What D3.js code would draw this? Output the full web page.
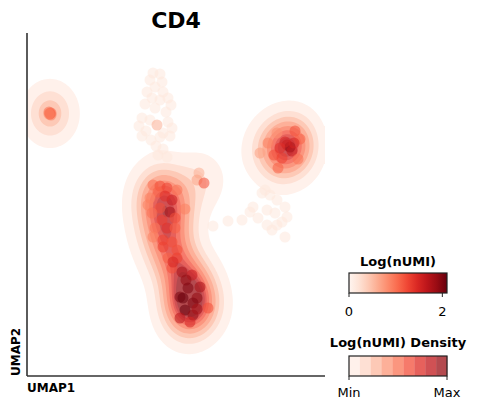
<!DOCTYPE html>
<html>
<head>
<meta charset="utf-8">
<script src="https://cdn.jsdelivr.net/npm/d3@7"></script>
<style>
    body { margin: 0; background: #fff; }
    text { font-family: 'DejaVu Sans', sans-serif; }
</style>
</head>
<body>
<div id="chart"></div>
<script>
// cells: UMAP coordinates and log expression of CD4
var umap1 = [
    -7.7, -7.6, -7.8, -7.7, -7.6, -7.8,
    2.6, 3.3, 2.3, 3.5, 2.8, 2.0, 3.6, 2.5, 3.3, 4.1, 4.4, 1.8, 2.8, 3.9, 1.5, 2.3,
    1.2, 1.9, 4.1, 4.5, 3.6, 1.5, 2.4, 3.3, 4.3, 2.9, 3.6, 3.1, 4.0, 3.0,
    7.2, 7.0, 7.7, 2.6, 3.3, 4.0, 5.0, 3.1, 2.3, 4.5, 3.8, 2.1, 5.8, 4.3, 3.3, 2.5,
    4.8, 3.5, 2.8, 4.0, 4.8, 2.6, 3.6, 4.5, 3.6, 5.0, 4.1, 5.0, 4.5,
    4.6, 5.5, 6.5, 5.9, 7.3, 6.1, 5.3, 7.0, 5.6, 6.6, 5.8, 6.6, 5.3, 7.0, 8.1, 6.3,
    16.3, 16.0, 16.8, 17.3, 15.0, 14.1, 13.3, 14.7, 15.5, 15.1, 15.8, 16.5, 17.1, 15.3, 16.7,
    8.6, 10.1, 11.5, 12.3, 12.6, 13.5, 14.3, 15.0, 14.0, 14.8, 15.8, 16.0, 14.0, 15.0,
    15.8, 14.5, 15.5, 13.8, 13.1
];
var umap2 = [
    11.3, 11.1, 11.4, 11.2, 11.3, 11.2,
    15.3, 15.2, 14.6, 14.4, 13.9, 13.4, 13.4, 12.8, 12.6, 12.8, 12.1, 12.2, 11.8, 11.4, 10.8, 10.6,
    10.0, 9.5, 10.4, 9.8, 9.3, 9.0, 8.6, 8.9, 9.0, 8.0, 7.7, 7.1, 6.9, 10.1,
    5.3, 4.6, 4.3, 4.1, 4.0, 3.8, 3.6, 3.4, 2.8, 2.6, 3.0, 2.1, 1.7, 1.4, 1.8, 1.3,
    0.8, 0.6, -0.2, -0.2, -0.2, -1.1, -1.4, -1.6, -2.1, -2.4, -3.2, -3.2, -4.2,
    -3.6, -4.6, -4.9, -5.4, -6.1, -6.2, -7.1, -7.2, -7.2, -7.7, -8.4, -8.9, -9.2, -8.3, -8.2, -9.6,
    7.9, 8.1, 9.5, 8.7, 9.3, 8.3, 7.3, 7.1, 6.8, 5.8, 8.4, 7.5, 6.7, 7.8, 8.3,
    0.0, 0.5, 0.6, 1.4, 1.9, 3.3, 3.1, 2.6, 1.6, 1.3, 1.9, 0.9, 0.1, 0.1,
    -1.1, -0.4, 0.4, 3.6, 0.8
];
var lognumi = [
    1.0, 0.9, 1.0, 1.1, 1.0, 0.9,
    0, 0, 0, 0, 0, 0, 0, 0, 0, 0, 0, 0, 0, 0, 0, 0,
    0, 0, 0, 0, 0, 0, 0, 0, 0, 0, 0, 0, 0, 0.6,
    0.6, 0.7, 1.2, 1.0, 1.2, 1.3, 1.0, 1.1, 0.9, 1.6, 1.4, 0.9, 0.9, 1.8, 1.2, 1.0,
    1.2, 1.3, 1.0, 1.4, 1.1, 0.9, 1.3, 1.2, 1.3, 1.2, 1.1, 1.3, 1.2,
    1.5, 1.8, 1.6, 1.9, 1.8, 2.0, 2.0, 1.9, 2.1, 2.0, 2.1, 1.9, 1.7, 1.8, 1.2, 1.5,
    2.0, 1.7, 1.2, 1.1, 0.8, 0.9, 0.7, 1.2, 1.3, 1.1, 1.5, 1.6, 1.0, 1.4, 1.5,
    0, 0, 0, 0, 0, 0, 0, 0, 0, 0, 0, 0, 0, 0,
    0, 0, 0, 0, 0
];
var umap1Domain = [-10, 19.8];
var umap2Domain = [-15, 19.3];
var colorbarTicks = [0, 2];
var densityTickLabels = ['Min', 'Max'];
var isoLevels = 10;
var bandwidth = [1.55, 1.8]; // kernel sd in umap units

var W = 478, H = 410;
var pad = { left: 27, top: 33, right: 153, bottom: 34 };
var pw = W - pad.left - pad.right;
var ph = H - pad.top - pad.bottom;

var svg = d3.select('#chart').append('svg')
    .attr('width', W)
    .attr('height', H);

var x = d3.scaleLinear().domain(umap1Domain).range([0, pw]);
var y = d3.scaleLinear().domain(umap2Domain).range([ph, 0]);
var exprMax = d3.max(lognumi);

function bandColor(i) {
    var c = d3.interpolateReds(0.05 + 0.84 * i / (isoLevels - 2));
    return d3.interpolateRgb('#ffffff', c)(0.75);
}

var pts = umap1.map(function (u, i) {
    return { px: x(u), py: y(umap2[i]), w: lognumi[i] };
});

// weighted gaussian kde on a pixel grid
var sx = x(bandwidth[0]) - x(0), sy = y(0) - y(bandwidth[1]);
var cell = 2;
var nx = Math.ceil(pw / cell), ny = Math.ceil(ph / cell);
var values = new Float64Array(nx * ny);
var heavy = pts.filter(function (d) { return d.w > 0; });
for (var j = 0; j < ny; j++) {
    var gy = (j + 0.5) * cell;
    for (var i = 0; i < nx; i++) {
        var gx = (i + 0.5) * cell, s = 0;
        for (var k = 0; k < heavy.length; k++) {
            var dx = (gx - heavy[k].px) / sx, dy = (gy - heavy[k].py) / sy;
            s += heavy[k].w * Math.exp(-0.5 * (dx * dx + dy * dy));
        }
        values[j * nx + i] = s;
    }
}

// iso-proportion levels
var sorted = Array.from(values).sort(function (a, b) { return b - a; });
var total = d3.sum(sorted), acc = 0;
var cum = sorted.map(function (v) { acc += v; return acc / total; });
var levels = d3.range(isoLevels).map(function (i) {
    var p = 0.05 + i * 0.95 / (isoLevels - 1);
    var idx = Math.min(d3.bisectLeft(cum, 1 - p), sorted.length - 1);
    return sorted[idx];
});

var contours = d3.contours().size([nx, ny])
    .thresholds(levels.slice(0, isoLevels - 1))(Array.from(values));

var plot = svg.append('g').attr('transform', 'translate(' + pad.left + ',' + pad.top + ')');
var path = d3.geoPath(d3.geoIdentity().scale(cell));

plot.append('g').selectAll('path')
    .data(contours)
    .join('path')
    .attr('d', path)
    .attr('fill', function (d, i) { return bandColor(i); });

plot.append('g').selectAll('circle')
    .data(pts)
    .join('circle')
    .attr('cx', function (d) { return d.px; })
    .attr('cy', function (d) { return d.py; })
    .attr('r', 5.5)
    .attr('fill', function (d) { return d3.interpolateReds(Math.max(d.w / exprMax, 0.08)); })
    .attr('fill-opacity', 0.55);

// spines
svg.append('line')
    .attr('x1', pad.left).attr('x2', pad.left)
    .attr('y1', pad.top).attr('y2', pad.top + ph)
    .attr('stroke', '#333').attr('stroke-width', 1.6);
svg.append('line')
    .attr('x1', pad.left).attr('x2', pad.left + pw)
    .attr('y1', pad.top + ph).attr('y2', pad.top + ph)
    .attr('stroke', '#333').attr('stroke-width', 1.6);

svg.append('text')
    .attr('x', pad.left + pw / 2).attr('y', 28)
    .attr('text-anchor', 'middle')
    .attr('font-size', 22).attr('font-weight', 'bold')
    .text('CD4');

svg.append('text')
    .attr('x', pad.left).attr('y', 392)
    .attr('font-size', 12).attr('font-weight', 'bold')
    .text('UMAP1');
svg.append('text')
    .attr('transform', 'translate(20,' + (pad.top + ph) + ') rotate(-90)')
    .attr('font-size', 12).attr('font-weight', 'bold')
    .text('UMAP2');

// legend: colorbar
var lx = 349, lw = 98, lh = 20;
var cbScale = d3.scaleLinear().domain([0, exprMax]).range([lx, lx + lw]);
var grad = svg.append('defs').append('linearGradient').attr('id', 'cbgrad');
d3.range(0, 1.0001, 0.1).forEach(function (t) {
    grad.append('stop').attr('offset', t).attr('stop-color', d3.interpolateReds(t));
});
svg.append('text')
    .attr('x', lx + lw / 2).attr('y', 266)
    .attr('text-anchor', 'middle')
    .attr('font-size', 13).attr('font-weight', 'bold')
    .text('Log(nUMI)');
svg.append('rect')
    .attr('x', lx).attr('y', 273).attr('width', lw).attr('height', lh)
    .attr('fill', 'url(#cbgrad)').attr('stroke', '#222').attr('stroke-width', 1.2);
var cbAxis = svg.append('g');
colorbarTicks.forEach(function (t) {
    cbAxis.append('line')
        .attr('x1', cbScale(t)).attr('x2', cbScale(t))
        .attr('y1', 273 + lh).attr('y2', 273 + lh + 4)
        .attr('stroke', '#222');
    cbAxis.append('text')
        .attr('x', cbScale(t)).attr('y', 316)
        .attr('text-anchor', 'middle').attr('font-size', 13)
        .text(t);
});

// legend: density bands
var nb = isoLevels - 1;
svg.append('text')
    .attr('x', lx + lw / 2).attr('y', 347)
    .attr('text-anchor', 'middle')
    .attr('font-size', 13).attr('font-weight', 'bold')
    .text('Log(nUMI) Density');
var bx = d3.scaleLinear().domain([0, nb]).range([lx, lx + lw]);
svg.append('g').selectAll('rect')
    .data(d3.range(nb))
    .join('rect')
    .attr('x', function (d) { return bx(d); })
    .attr('y', 356)
    .attr('width', bx(1) - bx(0) + 0.3)
    .attr('height', lh)
    .attr('fill', function (d) { return bandColor(d); });
svg.append('rect')
    .attr('x', lx).attr('y', 356).attr('width', lw).attr('height', lh)
    .attr('fill', 'none').attr('stroke', '#222').attr('stroke-width', 1.2);
densityTickLabels.forEach(function (lab, i) {
    var tx = i === 0 ? lx : lx + lw;
    svg.append('line')
        .attr('x1', tx).attr('x2', tx)
        .attr('y1', 356 + lh).attr('y2', 356 + lh + 4)
        .attr('stroke', '#222');
    svg.append('text')
        .attr('x', tx).attr('y', 397)
        .attr('text-anchor', 'middle').attr('font-size', 13)
        .text(lab);
});
</script>
</body>
</html>
